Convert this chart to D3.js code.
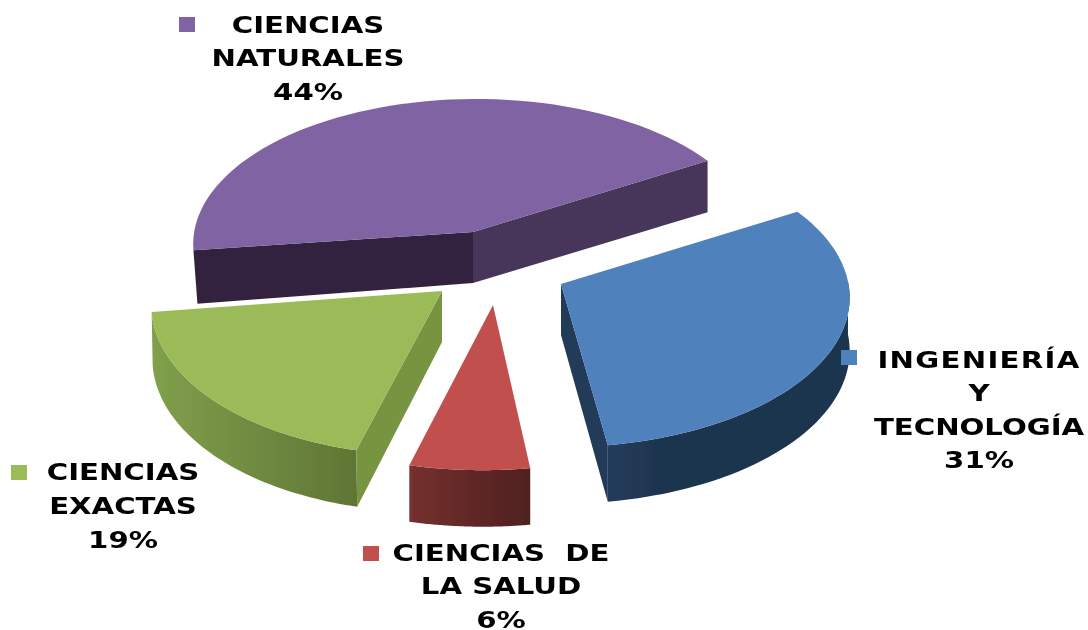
<!DOCTYPE html>
<html><head><meta charset="utf-8">
<script src="https://cdn.jsdelivr.net/npm/d3@7"></script>
<style>html,body{margin:0;padding:0;background:#fff}svg{display:block}</style>
</head><body><svg id="c" width="1088" height="630"></svg>
<script>
// --- data
const categories = ["INGENIERÍA Y TECNOLOGÍA","CIENCIAS DE LA SALUD","CIENCIAS EXACTAS","CIENCIAS NATURALES"];
const values = [31,6,19,44];
const labelLines = [["INGENIERÍA","Y","TECNOLOGÍA","31%"],["CIENCIAS  DE","LA SALUD","6%"],["CIENCIAS","EXACTAS","19%"],["CIENCIAS","NATURALES","44%"]];
// --- styling / layout
const topColors = ["#4f81bd","#c0504d","#9bbb59","#8064a2"];
const wallColors = [["#223c5b","#1f3550"],["#74302e","#4f201f"],["#80a04b","#5f7535"],["#333","#333"]];
const apex = [[561,284],[493,305],[442,291],[473,232]];
const hub  = [[561,282],[483,305],[425.5,290],[476,229]];
const bottomShift = [-2,0,1,4];
const radiusFactorX = [.99,1,.94,.97];
const radiusFactorY = [1,1,1,.97];
const labelPos = [[979,368,33.5],[501,561,33.5],[123,480,34],[308,33,33.5]];
const keyPos = [[849,357],[371,553],[19,472],[187,24]];
const wideLines = ["INGENIERÍA"];
const R=290,A=148,Q=.104,DEPTH=53,START=60,TEXT_STRETCH=1.27;

const svg=d3.select("#c");
const pie=d3.pie().sort(null).value(d=>d).startAngle(START*Math.PI/180).endAngle((START+360)*Math.PI/180);
const arcs=pie(values);
const proj=(t,fx,fy)=>{const den=1+Q*Math.cos(t);return [R*fx*Math.sin(t)/den,-A*fy*Math.cos(t)/den];};
const depth=t=>DEPTH/(1+Q*.6*Math.cos(t));
const line=d3.line();
const defs=svg.append("defs");
wallColors.forEach((c,i)=>{const g=defs.append("linearGradient").attr("id","w"+i).attr("gradientUnits","userSpaceOnUse");
  const xs=i==2?[152,357]:i==1?[410,530]:[607,850];
  g.attr("x1",xs[0]).attr("x2",xs[1]).attr("y1",0).attr("y2",0);
  g.append("stop").attr("offset",0).attr("stop-color",c[0]);g.append("stop").attr("offset",i==0?.2:1).attr("stop-color",c[1]);});
defs.append("filter").attr("id","soft").append("feGaussianBlur").attr("stdDeviation",.55);

const order=[3,2,0,1];
const chart=svg.append("g").attr("filter","url(#soft)");
order.forEach(i=>{
  const a=arcs[i],h=hub[i],p=apex[i];
  const ts=d3.range(0,61).map(k=>a.startAngle+(a.endAngle-a.startAngle)*k/60);
  const pts=ts.map(t=>{const q=proj(t,radiusFactorX[i],radiusFactorY[i]);return [h[0]+q[0],h[1]+q[1]];});
  const dn=(q,t)=>[q[0]+bottomShift[i]*(Math.sin(t)<0?1:0),q[1]+depth(t)];
  const first=pts[0],last=pts[60],t0=ts[0],t1=ts[60];
  const apexDown=[p[0],p[1]+DEPTH-2];
  if(i==3){ // back slice: its two cut faces are seen
    chart.append("path").attr("d",line([p,first,dn(first,t0),apexDown])+"Z").attr("fill","#33243f");
    chart.append("path").attr("d",line([p,last,dn(last,t1),apexDown])+"Z").attr("fill","#47345a");
  } else {
    const vis=ts.map((t,k)=>[t,pts[k]]).filter(d=>Math.cos(d[0])<.02||i==1);
    const topEdge=vis.map(d=>d[1]),botEdge=vis.map(d=>dn(d[1],d[0])).reverse();
    chart.append("path").attr("d",line(topEdge.concat(botEdge))+"Z").attr("fill",`url(#w${i})`);
    if(i==0) chart.append("path").attr("d",line([p,last,dn(last,t1),apexDown])+"Z").attr("fill","#213a58");
    if(i==2) chart.append("path").attr("d",line([p,first,dn(first,t0),apexDown])+"Z").attr("fill","#779540");
  }
  chart.append("path").attr("d",line([p].concat(pts))+"Z").attr("fill",topColors[i]);
});
labelLines.forEach((ls,i)=>{
  chart.append("rect").attr("x",keyPos[i][0]-8).attr("y",keyPos[i][1]-7).attr("width",16).attr("height",15).attr("fill",topColors[i]);
  const [x,y,dy]=labelPos[i];
  const t=chart.append("text").attr("text-anchor","middle").attr("font-family","'DejaVu Sans'").attr("font-weight","bold").attr("font-size",23).attr("fill","#000").style("white-space","pre")
    .attr("transform",`translate(${x},0) scale(${TEXT_STRETCH},1)`);
  ls.forEach((s,j)=>t.append("tspan").attr("x",0).attr("y",y+j*dy).attr("letter-spacing",wideLines.includes(s)?1:0).text(s));
});
</script></body></html>
